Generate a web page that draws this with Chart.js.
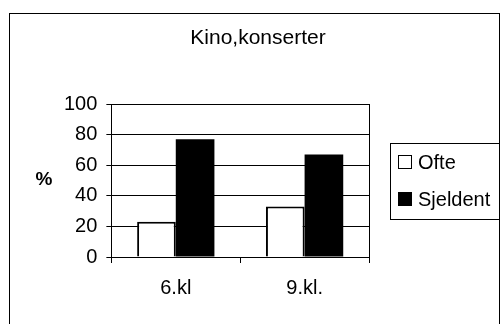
<!DOCTYPE html>
<html lang="no">
<head>
<meta charset="UTF-8">
<title>Kino,konserter</title>
<script src="https://cdn.jsdelivr.net/npm/chart.js"></script>
<style>
  html, body { margin: 0; padding: 0; background: #fff; }
  #wrap { width: 504px; height: 324px; }
</style>
</head>
<body>
<div id="wrap"><canvas id="myChart" width="504" height="324"></canvas></div>

<script>
    const categories = ['6.kl', '9.kl.']
    const ofte = [23, 33]
    const sjeldent = [77, 67]
    const seriesNames = ['Ofte', 'Sjeldent']
    const yTicks = [0, 20, 40, 60, 80, 100]
    const chartTitle = 'Kino,konserter'
    const yTitle = '%'

    const FONT = '"Liberation Sans", Arial, sans-serif'

    // frame, title, plot border, "%" label and boxed legend like the old Excel chart
    const excelBits = {
        id: 'excelBits',
        afterDraw(chart) {
            const c = chart.ctx
            const a = chart.chartArea
            c.save()
            c.strokeStyle = '#000'
            c.lineWidth = 1
            c.strokeRect(9.5, 13.5, 490, 340)

            c.beginPath()
            c.moveTo(Math.round(a.right) + 0.5, a.top)
            c.lineTo(Math.round(a.right) + 0.5, a.bottom + 6)
            c.stroke()

            c.fillStyle = '#000'
            c.textAlign = 'center'
            c.textBaseline = 'middle'
            c.font = '21px ' + FONT
            c.fillText(chartTitle, 258, 38)

            c.font = 'bold 19px ' + FONT
            c.fillText(yTitle, 44, 180)

            // legend
            c.strokeRect(390.5, 143.5, 109, 76)
            c.font = '20px ' + FONT
            c.textAlign = 'left'
            chart.data.datasets.forEach((ds, i) => {
                const y = 162 + i * 37
                c.fillStyle = ds.backgroundColor
                c.fillRect(398, y - 7, 14, 14)
                c.strokeStyle = '#000'
                c.strokeRect(398.5, y - 6.5, 13, 13)
                c.fillStyle = '#000'
                c.fillText(ds.label, 418, y + 1)
            })
            c.restore()
        }
    }

    const data = {
        labels: categories,
        datasets: [{
            label: seriesNames[0],
            data: ofte,
            backgroundColor: '#ffffff',
            borderColor: '#000000',
            borderWidth: 2,
            borderSkipped: 'bottom'
        },
        {
            label: seriesNames[1],
            data: sjeldent,
            backgroundColor: '#000000',
            borderColor: '#000000',
            borderWidth: 0
        }]
    }

    const config = {
        type: 'bar',
        data: data,
        options: {
            responsive: false,
            animation: false,
            devicePixelRatio: 1,
            layout: {
                padding: { left: 55, right: 135, top: 104, bottom: 11 }
            },
            datasets: {
                bar: { categoryPercentage: 0.6, barPercentage: 1 }
            },
            plugins: {
                legend: { display: false },
                tooltip: { enabled: false },
                title: { display: false }
            },
            scales: {
                x: {
                    offset: true,
                    grid: {
                        display: true,
                        offset: true,
                        drawOnChartArea: false,
                        color: '#000',
                        tickLength: 6
                    },
                    border: { display: true, color: '#000', width: 1 },
                    ticks: {
                        color: '#000',
                        padding: 13,
                        font: { family: FONT, size: 20 }
                    }
                },
                y: {
                    min: 0,
                    max: 100,
                    afterBuildTicks: axis => { axis.ticks = yTicks.map(v => ({ value: v })) },
                    grid: {
                        color: '#000',
                        lineWidth: 1,
                        tickLength: 5
                    },
                    border: { display: true, color: '#000', width: 1 },
                    ticks: {
                        color: '#000',
                        padding: 9,
                        font: { family: FONT, size: 20 }
                    }
                }
            }
        },
        plugins: [excelBits]
    }

    window.kinoChart = new Chart(document.getElementById('myChart'), config)
</script>
</body>
</html>
